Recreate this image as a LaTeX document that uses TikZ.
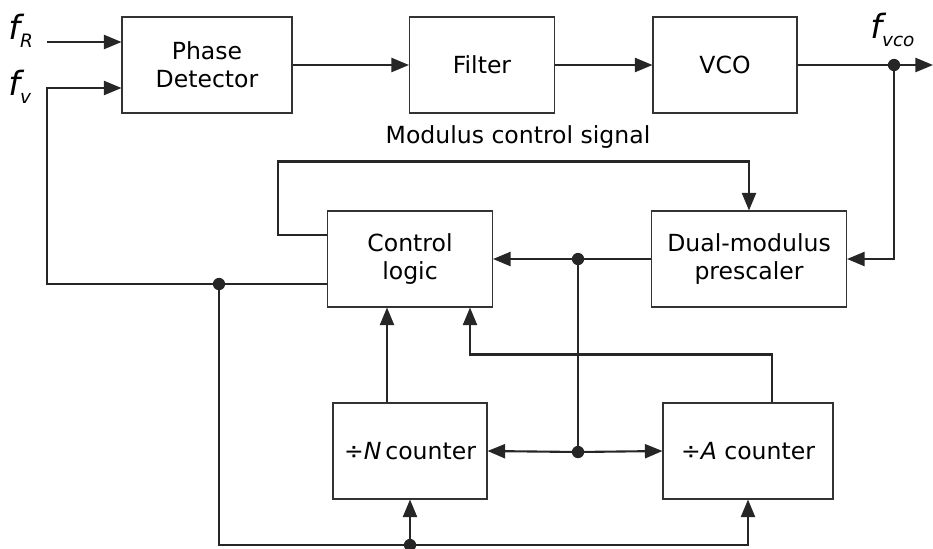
\documentclass[tikz,border=0pt]{standalone}
\usepackage{fontspec}
\setmainfont{DejaVu Sans}
\usetikzlibrary{arrows.meta, positioning, calc}
\newcommand{\blockfont}{\fontsize{13.4}{16}\selectfont}
\newcommand{\fsig}[1]{{\fontsize{19}{22}\selectfont\itshape f}\raisebox{-5pt}{\fontsize{10.5}{12}\selectfont\itshape #1}}
\tikzset{
  blockbox/.style={rectangle, draw=black!80, line width=0.6pt, align=center,
                   minimum height=1.92cm, inner sep=2pt, font=\blockfont},
  wire/.style={line width=1.2pt, color=black!85},
  sigarrow/.style={wire, -{Triangle[length=10pt, width=8pt]}},
  jdot/.style={circle, fill=black!85, inner sep=0pt, minimum size=7pt}
}
\begin{document}
\begin{tikzpicture}[x=0.02cm, y=-0.02cm]
  \useasboundingbox (0,0) rectangle (933,548);

  % Forward path
  \node[blockbox, minimum width=3.4cm] (pd) at (207,65) {Phase\\Detector};
  \node[blockbox, minimum width=2.9cm] (filt) at (482,65) {Filter};
  \node[blockbox, minimum width=2.88cm] (vco) at (725,65) {VCO};

  % Divider blocks
  \node[blockbox, minimum width=3.3cm] (ctrl) at (410,259) {Control\\logic};
  \node[blockbox, minimum width=3.9cm] (pre) at (749,259) {Dual-modulus\\prescaler};
  \node[blockbox, minimum width=3.08cm] (ncnt) at (410,451) {÷\textit{N}\,counter};
  \node[blockbox, minimum width=3.4cm] (acnt) at (748,451) {÷\textit{A} counter};

  % Signal labels
  \node[anchor=base west, inner sep=0pt] (fRlbl) at (8,39) {\fsig{R}};
  \node[anchor=base west, inner sep=0pt] (fvlbl) at (8,95) {\fsig{v}};
  \node[anchor=base west, inner sep=0pt] (fvcolbl) at (870,38) {\fsig{vco}};
  \node[font=\blockfont] (modlbl) at (518,137) {Modulus control signal};

  % Ends and junctions
  \coordinate (fin) at (47,42);
  \coordinate (fout) at (933,65);
  \node[jdot] (jvco) at (894,65) {};
  \node[jdot] (jfv) at (219,284) {};
  \node[jdot] (jpre) at (578,259) {};
  \node[jdot] (jcnt) at (578,452) {};
  \node[jdot] (jbot) at (410,545) {};

  % Loop
  \draw[sigarrow] (fin) -- (fin -| pd.west);
  \draw[sigarrow] (pd) -- (filt);
  \draw[sigarrow] (filt) -- (vco);
  \draw[sigarrow] (vco) -- (fout);
  \draw[sigarrow] (jvco.center) |- (pre.east);
  \draw[sigarrow] ($(ctrl.west)+(0,25)$) -| (47,88) -- ($(pd.west)+(0,23)$);

  % Modulus control
  \draw[sigarrow] ($(ctrl.west)+(0,-24)$) -- ++(-49,0) |- ($(pre.north)+(0,-49)$) -- (pre.north);

  % Prescaler output to counters
  \draw[sigarrow] (pre.west) -- (ctrl.east);
  \draw[wire] (jpre.center) -- (jcnt.center);
  \draw[sigarrow] (jcnt.center) -- (ncnt.east);
  \draw[sigarrow] (jcnt.center) -- (acnt.west);

  % Counters to control logic
  \draw[sigarrow] ($(ncnt.north)+(-23,0)$) -- ($(ctrl.south)+(-23,0)$);
  \draw[sigarrow] ($(acnt.north)+(24,0)$) -- ++(0,-48) -| ($(ctrl.south)+(60,0)$);

  % Reset to counters
  \draw[sigarrow] (jfv.center) |- (jbot.center) -| (acnt.south);
  \draw[sigarrow] (jbot.center) -- (ncnt.south);
\end{tikzpicture}
\end{document}
